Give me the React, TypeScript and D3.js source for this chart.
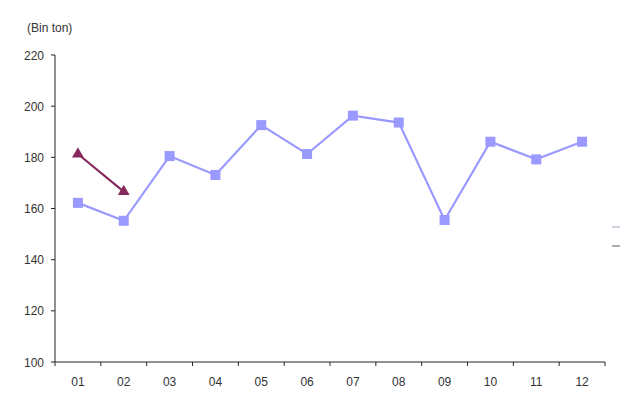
import React from "react";
import * as d3 from "d3";

const months = ["01", "02", "03", "04", "05", "06", "07", "08", "09", "10", "11", "12"];
const seriesMain = [162.2, 155.2, 180.5, 173.1, 192.6, 181.3, 196.3, 193.6, 155.5, 186.1, 179.2, 186.1];
const seriesPrev = [181.3, 166.6];
const yTicks = [100, 120, 140, 160, 180, 200, 220];

export default function App() {
  const W = 620, H = 413;
  const left = 55, right = 605, top = 55, bottom = 362;
  const x = d3.scaleBand<string>().domain(months).range([left, right]);
  const y = d3.scaleLinear().domain([100, 220]).range([bottom, top]);
  const cx = (m: string) => (x(m) as number) + x.bandwidth() / 2;
  const line = d3.line<number>().x((_, i) => cx(months[i])).y((v) => y(v));
  const font = "'Liberation Sans', Arial, sans-serif";
  const boundaries = months.map((m) => x(m) as number).concat([right]);
  const tri = d3.symbol().type(d3.symbolTriangle).size(60)();
  return (
    <svg width={W} height={H} style={{ position: "absolute", left: 0, top: 0, background: "#fff" }}>
      <text x={27} y={32} fontFamily={font} fontSize={12} fill="#333">(Bin ton)</text>
      <line x1={left} x2={left} y1={top} y2={bottom} stroke="#222" strokeWidth={1} />
      <line x1={left} x2={right} y1={bottom} y2={bottom} stroke="#222" strokeWidth={1} />
      {yTicks.map((t) => (
        <g key={t}>
          <line x1={left - 4} x2={left} y1={y(t)} y2={y(t)} stroke="#222" />
          <text x={left - 11} y={y(t) + 4.5} textAnchor="end" fontFamily={font} fontSize={12} fill="#333">{t}</text>
        </g>
      ))}
      {boundaries.map((b, i) => (
        <line key={i} x1={b} x2={b} y1={bottom} y2={bottom + 4} stroke="#222" />
      ))}
      {months.map((m) => (
        <text key={m} x={cx(m)} y={bottom + 24} textAnchor="middle" fontFamily={font} fontSize={12} fill="#333">{m}</text>
      ))}
      <path d={line(seriesMain) || ""} fill="none" stroke="#9999ff" strokeWidth={2.2} />
      {seriesMain.map((v, i) => (
        <rect key={i} x={cx(months[i]) - 5} y={y(v) - 5} width={10} height={10} fill="#9999ff" />
      ))}
      <path d={line(seriesPrev) || ""} fill="none" stroke="#862a5c" strokeWidth={2.2} />
      {seriesPrev.map((v, i) => (
        <path key={i} d={tri || ""} transform={`translate(${cx(months[i])},${y(v)})`} fill="#862a5c" />
      ))}
      <line x1={612} x2={620} y1={227} y2={227} stroke="#a0a0c0" strokeWidth={1} />
      <line x1={612} x2={620} y1={246} y2={246} stroke="#705060" strokeWidth={1} />
    </svg>
  );
}
